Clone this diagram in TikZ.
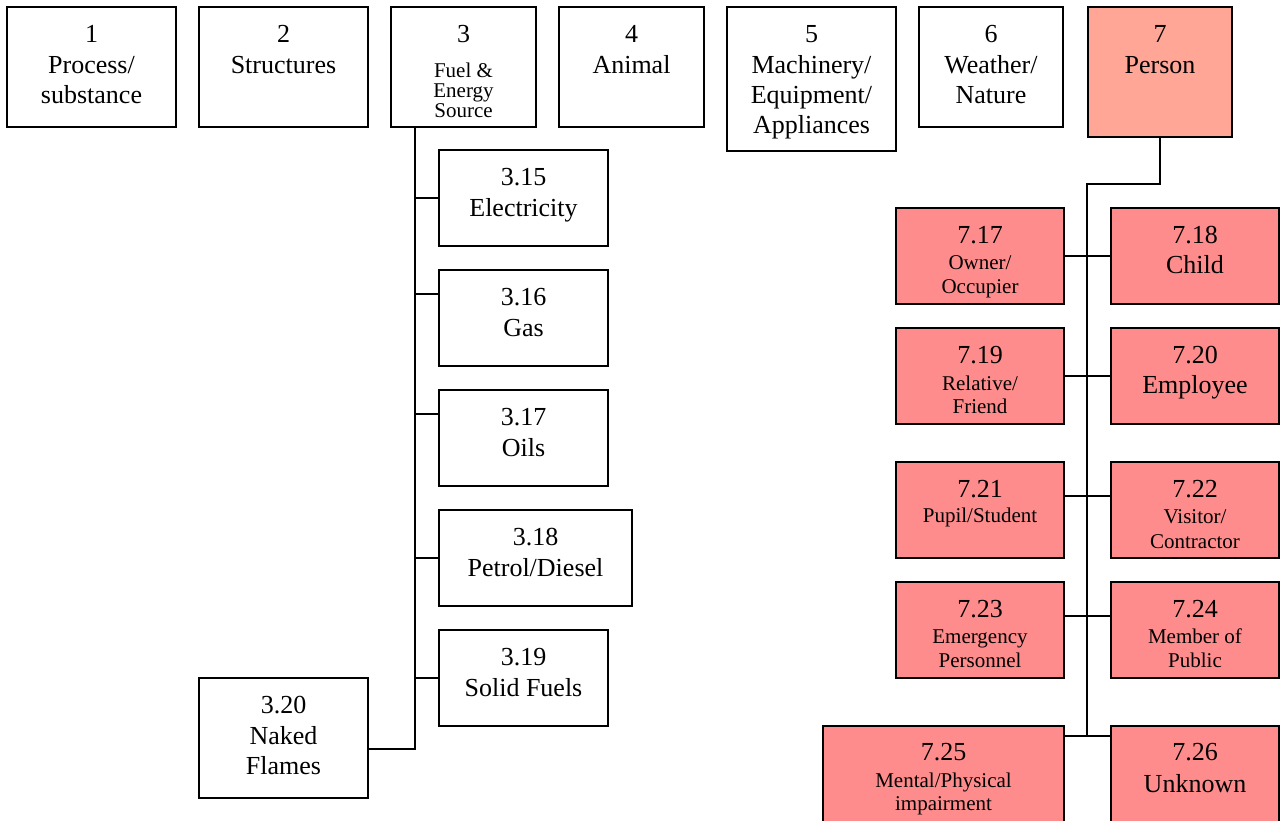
\documentclass[tikz,border=0pt]{standalone}
\usepackage{fontspec}
\setmainfont{Liberation Serif}
\usepackage{tikz}

\definecolor{personhead}{RGB}{255,166,150}
\definecolor{personsub}{RGB}{255,140,140}

% one text line: distance from the line above, font size, text
\newcommand{\bxline}[3]{\raisebox{0pt}[#1pt][0pt]{\fontsize{#2}{#2}\selectfont #3}\par}
\newcommand{\bline}[2]{\bxline{#1}{26}{#2}}
\newcommand{\sline}[2]{\bxline{#1}{21}{#2}}
% top aligned text box: width, height, lines
\newcommand{\boxcell}[3]{\parbox[t][#2pt][t]{#1pt}{\parskip=0pt\centering\offinterlineskip #3}}

\begin{document}
\begin{tikzpicture}[x=1pt,y=-1pt,line width=1.2pt]
    \tikzstyle{typebox}=[draw,line width=1.3pt,inner sep=0pt,outer sep=0pt,anchor=north west,fill=white];
    \tikzstyle{personbox}=[typebox,fill=personhead];
    \tikzstyle{victimbox}=[typebox,fill=personsub];
    \useasboundingbox (0,0) rectangle (1280,820);
    \clip (0,0) rectangle (1280,820);

    % top row
    \node at (7,7)    (c1) [typebox] {\boxcell{169}{120}{\bline{35}{1}\bline{31}{Process/}\bline{30}{substance}}};
    \node at (199,7)  (c2) [typebox] {\boxcell{169}{120}{\bline{35}{2}\bline{31}{Structures}}};
    \node at (391,7)  (c3) [typebox] {\boxcell{145}{120}{\bline{35}{3}\sline{35}{Fuel \&}\sline{20}{Energy}\sline{20}{Source}}};
    \node at (559,7)  (c4) [typebox] {\boxcell{145}{120}{\bline{35}{4}\bline{31}{Animal}}};
    \node at (727,7)  (c5) [typebox] {\boxcell{169}{144}{\bline{35}{5}\bline{31}{Machinery/}\bline{30}{Equipment/}\bline{30}{Appliances}}};
    \node at (919,7)  (c6) [typebox] {\boxcell{144}{120}{\bline{35}{6}\bline{31}{Weather/}\bline{30}{Nature}}};
    \node at (1088,7) (p7) [personbox] {\boxcell{144}{130}{\bline{35}{7}\bline{31}{Person}}};

    % fuel & energy
    \node at (439,150) (f315) [typebox] {\boxcell{169}{96}{\bline{35}{3.15}\bline{31}{Electricity}}};
    \node at (439,270) (f316) [typebox] {\boxcell{169}{96}{\bline{35}{3.16}\bline{31}{Gas}}};
    \node at (439,390) (f317) [typebox] {\boxcell{169}{96}{\bline{35}{3.17}\bline{31}{Oils}}};
    \node at (439,510) (f318) [typebox] {\boxcell{193}{96}{\bline{35}{3.18}\bline{31}{Petrol/Diesel}}};
    \node at (439,630) (f319) [typebox] {\boxcell{169}{96}{\bline{35}{3.19}\bline{31}{Solid Fuels}}};
    \node at (199,678) (f320) [typebox] {\boxcell{169}{120}{\bline{35}{3.20}\bline{31}{Naked}\bline{30}{Flames}}};

    % person
    \node at (896,208)  (p717) [victimbox] {\boxcell{168}{96}{\bline{35}{7.17}\sline{26}{Owner/}\sline{24}{Occupier}}};
    \node at (1111,208) (p718) [victimbox] {\boxcell{168}{96}{\bline{35}{7.18}\bline{30}{Child}}};
    \node at (896,328)  (p719) [victimbox] {\boxcell{168}{96}{\bline{35}{7.19}\sline{27}{Relative/}\sline{23}{Friend}}};
    \node at (1111,328) (p720) [victimbox] {\boxcell{168}{96}{\bline{35}{7.20}\bline{30}{Employee}}};
    \node at (896,462)  (p721) [victimbox] {\boxcell{168}{96}{\bline{35}{7.21}\sline{25}{Pupil/Student}}};
    \node at (1111,462) (p722) [victimbox] {\boxcell{168}{96}{\bline{35}{7.22}\sline{26}{Visitor/}\sline{25}{Contractor}}};
    \node at (896,582)  (p723) [victimbox] {\boxcell{168}{96}{\bline{35}{7.23}\sline{26}{Emergency}\sline{24}{Personnel}}};
    \node at (1111,582) (p724) [victimbox] {\boxcell{168}{96}{\bline{35}{7.24}\sline{26}{Member of}\sline{24}{Public}}};
    \node at (823,726)  (p725) [victimbox] {\boxcell{241}{120}{\bline{34}{7.25}\sline{27}{Mental/Physical}\sline{23}{impairment}}};
    \node at (1111,726) (p726) [victimbox] {\boxcell{168}{120}{\bline{34}{7.26}\bline{32}{Unknown}}};

    \coordinate (fspine) at (415,749);
    \coordinate (pjoin) at (1087,184);
    \coordinate (pend) at (1087,736);

    \draw (c3.south -| fspine) -- (fspine) -- (fspine -| f320.east);
    \draw (f315.west) -- +(-24,0);
    \draw ([yshift=24pt]f316.west) -- +(-24,0);
    \draw ([yshift=24pt]f317.west) -- +(-24,0);
    \draw (f318.west) -- +(-24,0);
    \draw (f319.west) -- +(-24,0);

    \draw (p7.south) |- (pjoin) -- (pend);
    \draw (p717.east) -- (p718.west);
    \draw (p719.east) -- (p720.west);
    \draw ([yshift=14pt]p721.east) -- ([yshift=14pt]p722.west);
    \draw ([yshift=14pt]p723.east) -- ([yshift=14pt]p724.west);
    \draw ([yshift=-10pt]p725.north east) -- ([yshift=-10pt]p726.north west);
\end{tikzpicture}
\end{document}
